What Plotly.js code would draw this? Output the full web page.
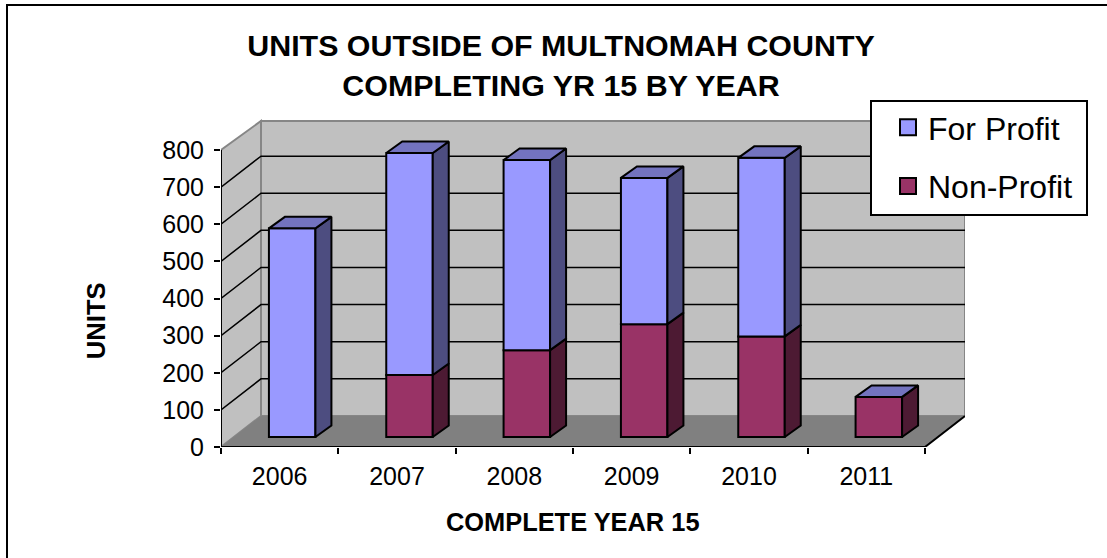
<!DOCTYPE html>
<html><head><meta charset="utf-8">
<script src="https://cdn.plot.ly/plotly-3.0.1.min.js"></script>
<style>html,body{margin:0;padding:0;background:#fff}</style></head>
<body><div id="chart" style="width:1107px;height:558px"></div>
<script>
const years = ['2006','2007','2008','2009','2010','2011'];
const forProfit = [562, 598, 512, 394, 481, 0];
const nonProfit = [0, 167, 234, 304, 271, 108];
const yTicks = [0,100,200,300,400,500,600,700,800];

const W=1107,H=558, L=221,R=965,T=110,B=446.7;
const pxPerCat=704/6, pxPerUnit=296.7/800;
const xr=[-0.5,(R-L)/pxPerCat-0.5], yr=[0,(B-T)/pxPerUnit];
const ux=p=>p/pxPerCat, uy=p=>p/pxPerUnit;
const paperX=p=>(p-L)/(R-L), paperY=p=>(B-p)/(B-T);
const wallDX=ux(40), wallDY=uy(31), wallTop=uy(325.7);
const barDX=ux(12.5), barDY=uy(10), depX=ux(16), depY=uy(11.5), bw=46.5/pxPerCat;
const x0=-0.5, x1=5.5;
const poly=(pts)=>'M'+pts.map(p=>p[0]+','+p[1]).join('L')+'Z';
const shapes=[
 {type:'path',path:poly([[x0,0],[x0+wallDX,wallDY],[x0+wallDX,wallTop],[x0,800]]),xref:'x',yref:'y',fillcolor:'#c0c0c0',line:{color:'#868686',width:2},layer:'below'},
 {type:'path',path:poly([[x0+wallDX,wallDY],[x1+wallDX,wallDY],[x1+wallDX,wallTop],[x0+wallDX,wallTop]]),xref:'x',yref:'y',fillcolor:'#c0c0c0',line:{color:'#868686',width:2},layer:'below'},
 {type:'path',path:poly([[x0,0],[x1,0],[x1+wallDX,wallDY],[x0+wallDX,wallDY]]),xref:'x',yref:'y',fillcolor:'#808080',line:{width:0},layer:'below'},
];
yTicks.slice(1,8).forEach(v=>{
 shapes.push({type:'path',path:`M${x0},${v}L${x0+wallDX},${v+wallDY}L${x1+wallDX},${v+wallDY}`,xref:'x',yref:'y',line:{color:'#000',width:1.5},layer:'below'});
});
// axis lines
shapes.push({type:'line',xref:'x',yref:'y',x0:x0,x1:x0,y0:0,y1:800,line:{color:'#000',width:2},layer:'below'});
shapes.push({type:'path',xref:'x',yref:'y',path:`M${x0},0L${x1},0L${x1+wallDX},${wallDY}`,line:{color:'#000',width:2},layer:'below'});
// outer frame: only the top and left edges fall inside the picture
shapes.push({type:'path',xref:'paper',yref:'paper',path:`M${paperX(7)},${paperY(H)}L${paperX(7)},${paperY(5)}L${paperX(W)},${paperY(5)}`,line:{color:'#000',width:2},layer:'below'});
// legend box
shapes.push({type:'rect',xref:'paper',yref:'paper',x0:paperX(871),x1:paperX(1087),y0:paperY(215),y1:paperY(101),fillcolor:'#fff',line:{color:'#000',width:2},layer:'above'});

const BLUE='#9999ff', BLUES='#4d4d80', BLUET='#7373bf', RED='#993366', REDS='#4d1a33';
const cx=i=>i+barDX;
function faces(vals,bases,color,name){
 const sx=[],sy=[];
 vals.forEach((v,i)=>{ if(!v) return;
  const b=bases[i], r=cx(i)+bw/2;
  sx.push(r,r+depX,r+depX,r,r,null);
  sy.push(b,b+depY,b+v+depY,b+v,b,null);
 });
 return {type:'scatter',mode:'lines',x:sx,y:sy,fill:'toself',fillcolor:color,line:{color:'#000',width:2},showlegend:false,hoverinfo:'skip',name:name};
}
const npBase=years.map(()=>barDY);
const fpBase=nonProfit.map(v=>v+barDY);
const tx=[],ty=[];
years.forEach((_,i)=>{
 const t=barDY+forProfit[i]+nonProfit[i], l=cx(i)-bw/2, r=cx(i)+bw/2;
 tx.push(l,r,r+depX,l+depX,l,null); ty.push(t,t,t+depY,t+depY,t,null);
});
const bar=(vals,base,color,name)=>({type:'bar',name:name,x:years.map((_,i)=>cx(i)),y:vals,base:base,width:bw,marker:{color:color,line:{color:'#000',width:2}},showlegend:false});
const key=(color,name)=>({type:'scatter',mode:'markers',x:[null],y:[null],name:name,marker:{symbol:'square',size:16,color:color,line:{color:'#000',width:2}},hoverinfo:'skip',legendgroup:name});
const data=[
 bar(nonProfit,npBase,RED,'Non-Profit'),
 bar(forProfit,fpBase,BLUE,'For Profit'),
 faces(nonProfit,npBase,REDS,'Non-Profit side'),
 faces(forProfit,fpBase,BLUES,'For Profit side'),
 {type:'scatter',mode:'lines',x:tx,y:ty,fill:'toself',fillcolor:BLUET,line:{color:'#000',width:2},showlegend:false,hoverinfo:'skip',name:'top'},
 key(BLUE,'For Profit'),key(RED,'Non-Profit')
];
const F='"Liberation Sans",Arial,sans-serif';
const layout={
 width:W,height:H,paper_bgcolor:'#fff',plot_bgcolor:'rgba(0,0,0,0)',
 margin:{l:L,r:W-R,t:T,b:H-B,pad:0},
 barmode:'overlay',showlegend:true,
 font:{family:F,color:'#000'},
 title:{text:'<b>UNITS OUTSIDE OF MULTNOMAH COUNTY<br>COMPLETING YR 15 BY YEAR</b>',font:{size:30.4,family:F,color:'#000'},x:561/W,xanchor:'center',y:1-56/H,yanchor:'middle'},
 xaxis:{range:xr,tickmode:'array',tickvals:years.map((_,i)=>i),ticktext:years,ticks:'',ticklabelstandoff:12,tickfont:{size:25,family:F},showgrid:false,zeroline:false,showline:false,
  minor:{tickmode:'array',tickvals:[-0.5,0.5,1.5,2.5,3.5,4.5,5.5],ticks:'outside',ticklen:6,tickwidth:2,tickcolor:'#000',showgrid:false}},
 yaxis:{range:yr,tickmode:'array',tickvals:yTicks,ticks:'outside',ticklen:6,tickwidth:2,tickcolor:'#000',ticklabelstandoff:5,tickfont:{size:25,family:F},showgrid:false,zeroline:false,showline:false},
 annotations:[
  {text:'<b>COMPLETE YEAR 15</b>',xref:'x',x:2.5,yref:'paper',y:paperY(522),xanchor:'center',yanchor:'middle',showarrow:false,font:{size:25.4,family:F,color:'#000'}},
  {text:'<b>UNITS</b>',xref:'paper',x:paperX(96),yref:'paper',y:paperY(321),xanchor:'center',yanchor:'middle',textangle:-90,showarrow:false,font:{size:25.6,family:F,color:'#000'}}
 ],
 legend:{x:paperX(888),xanchor:'left',y:paperY(100),yanchor:'top',bgcolor:'rgba(0,0,0,0)',borderwidth:0,font:{size:32,family:F},tracegroupgap:14},
 shapes:shapes
};
Plotly.newPlot('chart',data,layout,{displayModeBar:false,staticPlot:true});
</script></body></html>
